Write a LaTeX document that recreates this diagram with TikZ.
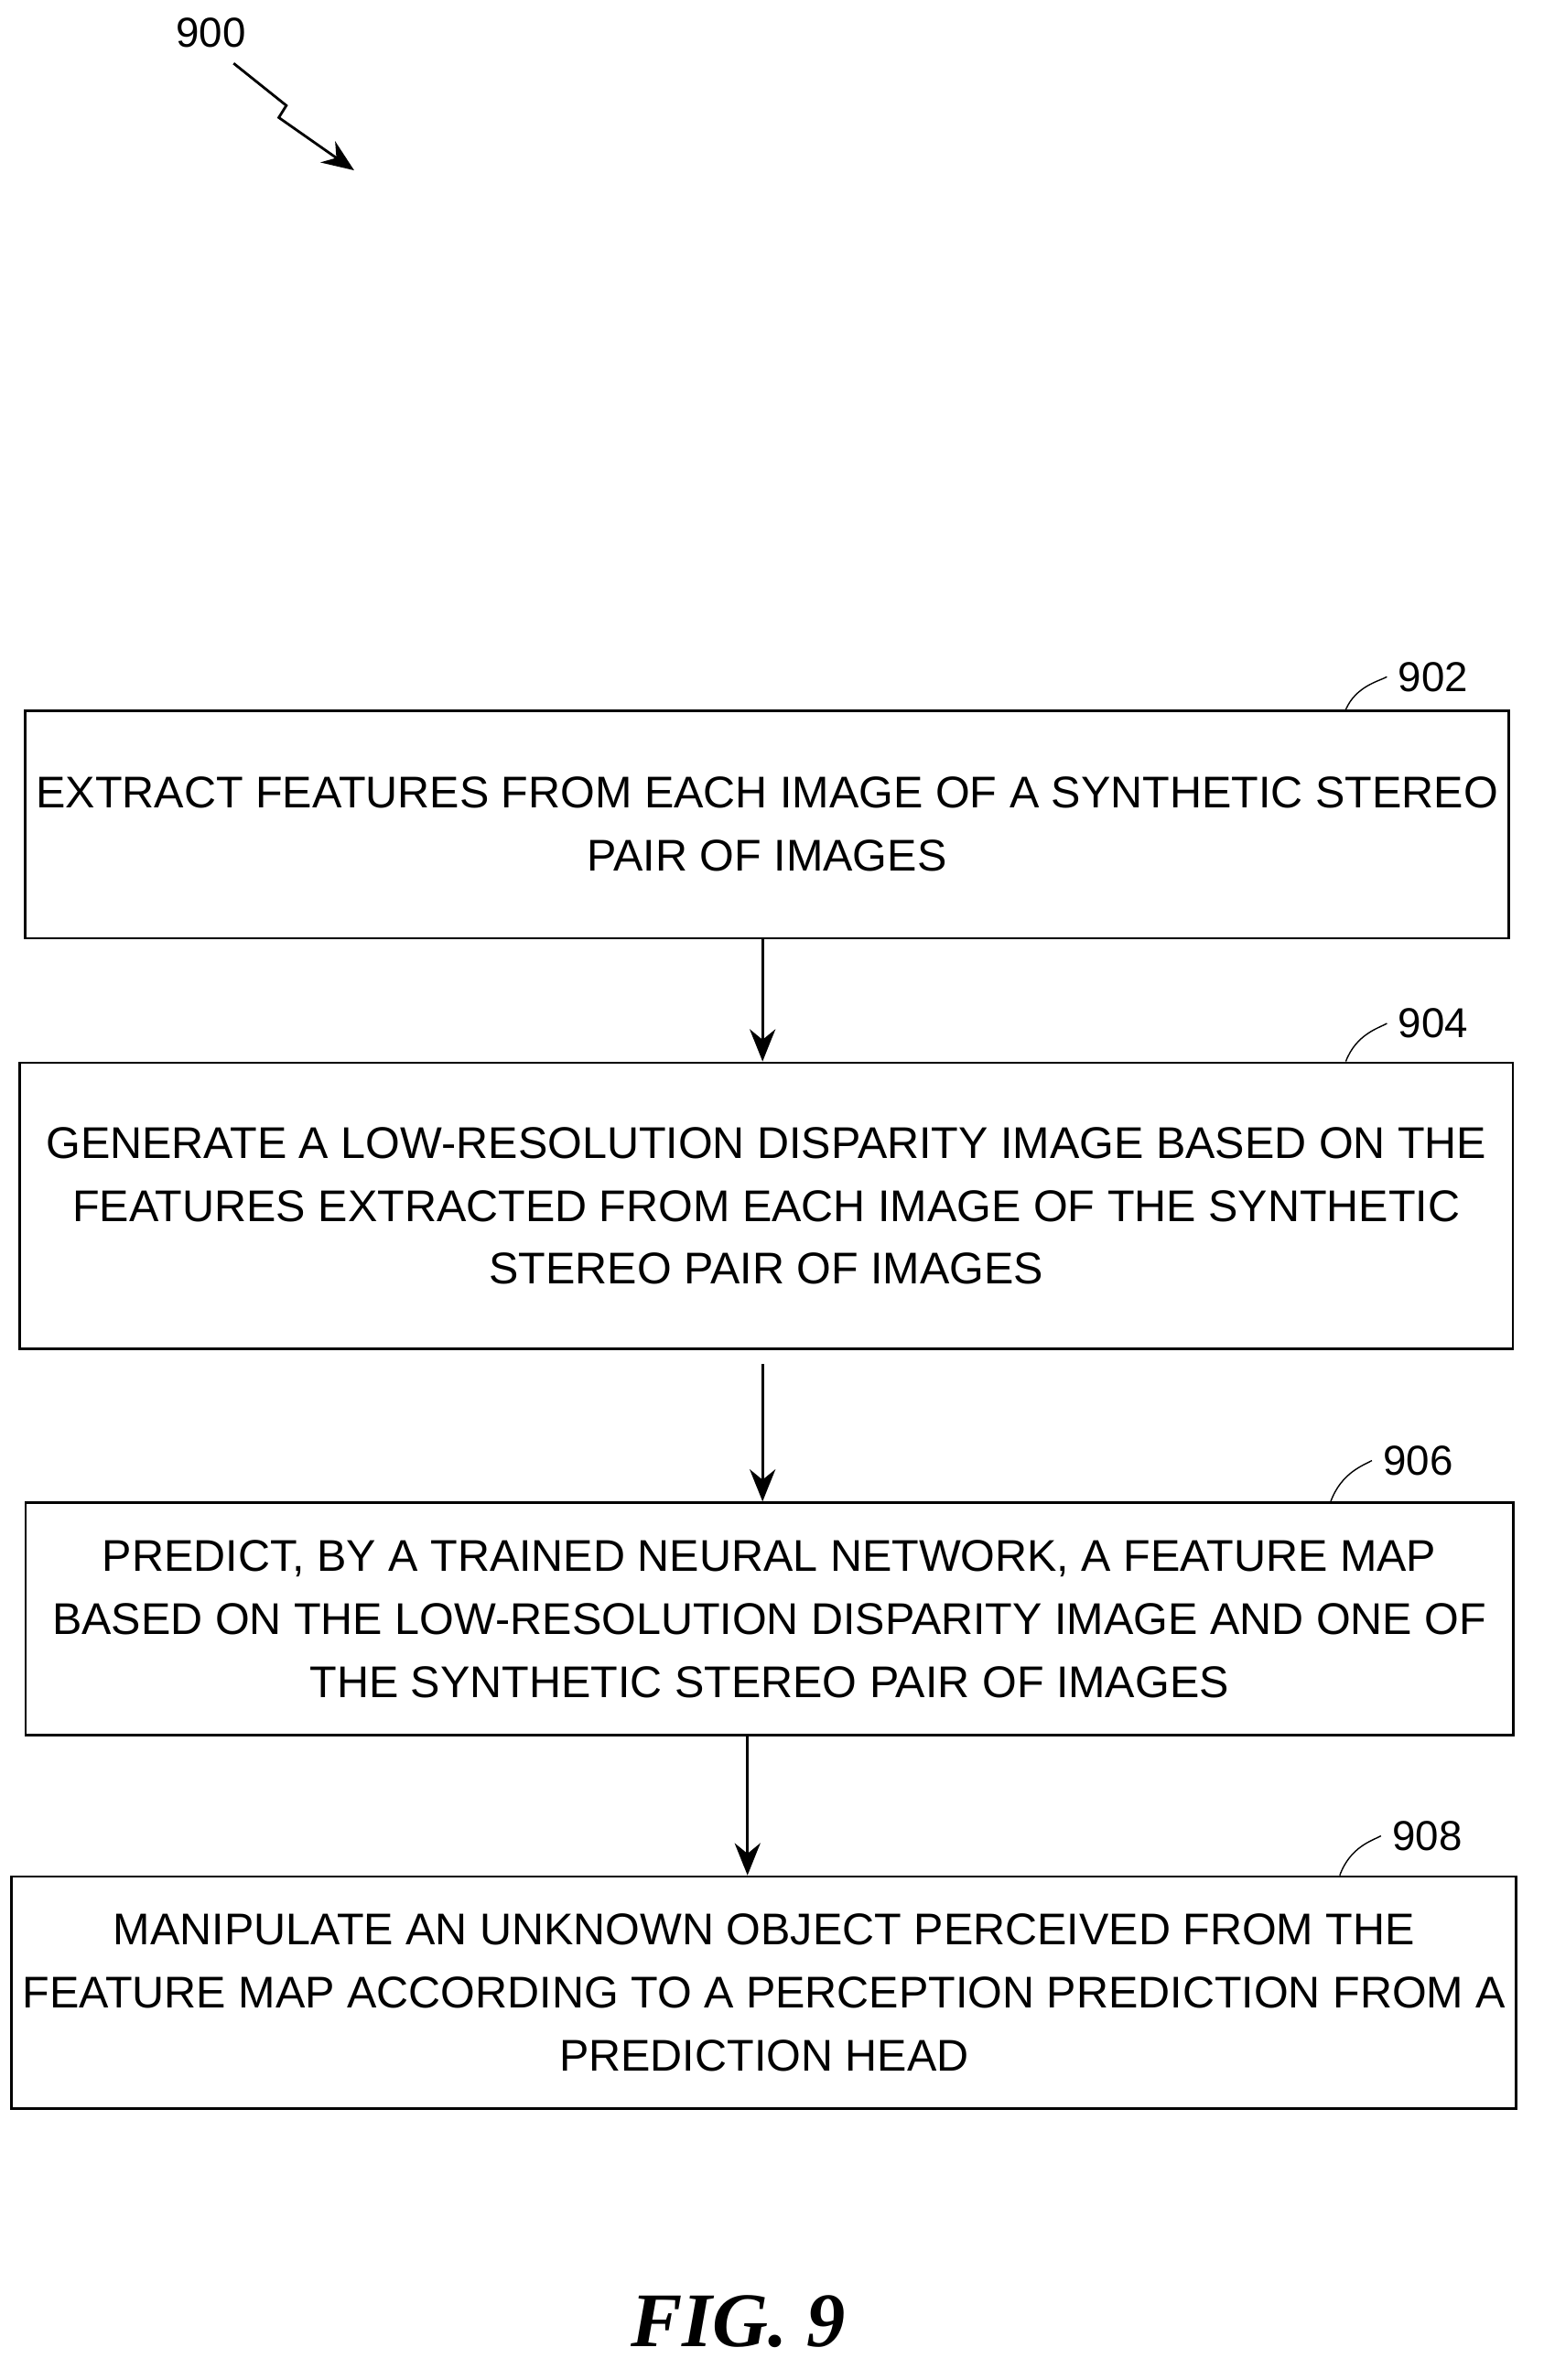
\documentclass[tikz,border=0pt]{standalone}
\usepackage{fontspec}
\setmainfont{Liberation Sans}
\newfontfamily\figfont{Liberation Serif}
\usetikzlibrary{arrows.meta}
\begin{document}
\begin{tikzpicture}[x=0.01646cm, y=-0.01646cm,
  stepbox/.style={draw, thick, minimum width=#1, align=center,
    font=\fontsize{13.8}{19.6}\selectfont},
  reflabel/.style={font=\fontsize{13}{15}\selectfont},
  flow/.style={thick, -{Stealth[length=10pt, width=8pt]}}]
    \useasboundingbox (0,0) rectangle (1024,1579);

    % Steps
    \node [stepbox=16.20cm, minimum height=2.485cm] (s902) at (509,547)
      {EXTRACT FEATURES FROM EACH IMAGE OF A SYNTHETIC STEREO\\PAIR OF IMAGES};
    \node [stepbox=16.31cm, minimum height=3.127cm] (s904) at (508.5,800)
      {GENERATE A LOW-RESOLUTION DISPARITY IMAGE BASED ON THE\\FEATURES EXTRACTED FROM EACH IMAGE OF THE SYNTHETIC\\STEREO PAIR OF IMAGES};
    \node [stepbox=16.25cm, minimum height=2.535cm] (s906) at (510.5,1074)
      {PREDICT, BY A TRAINED NEURAL NETWORK, A FEATURE MAP\\BASED ON THE LOW-RESOLUTION DISPARITY IMAGE AND ONE OF\\THE SYNTHETIC STEREO PAIR OF IMAGES};
    \node [stepbox=16.13cm, minimum height=2.535cm] (s908) at (507,1322)
      {MANIPULATE AN UNKNOWN OBJECT PERCEIVED FROM THE\\FEATURE MAP ACCORDING TO A PERCEPTION PREDICTION FROM A\\PREDICTION HEAD};

    % Connections
    \draw [flow] (s902.south -| 506,0) -- (s904.north -| 506,0);
    \draw [flow] (506,905) -- (s906.north -| 506,0);
    \draw [flow] (s906.south -| 496,0) -- (s908.north -| 496,0);

    % Reference numerals
    \node [reflabel] (n902) at (951,449) {902};
    \draw (s902.north -| 893,0) .. controls (900,455) and (915,452) .. (n902.west);
    \node [reflabel] (n904) at (951,679) {904};
    \draw (s904.north -| 893,0) .. controls (900,686) and (915,682) .. (n904.west);
    \node [reflabel] (n906) at (941,969) {906};
    \draw (s906.north -| 883,0) .. controls (890,977) and (905,972) .. (n906.west);
    \node [reflabel] (n908) at (947,1218) {908};
    \draw (s908.north -| 889,0) .. controls (896,1225) and (911,1221) .. (n908.west);

    \node [reflabel] (n900) at (140,22) {900};
    \coordinate (t900) at (235,113);
    \draw [thick, -{Stealth[length=10pt, width=8pt]}]
      (155,42) -- (190,70) -- (185,78) -- (t900);

    \node [font=\figfont\bfseries\itshape\fontsize{24}{28}\selectfont] (fig) at (490,1540) {FIG. 9};
\end{tikzpicture}
\end{document}
